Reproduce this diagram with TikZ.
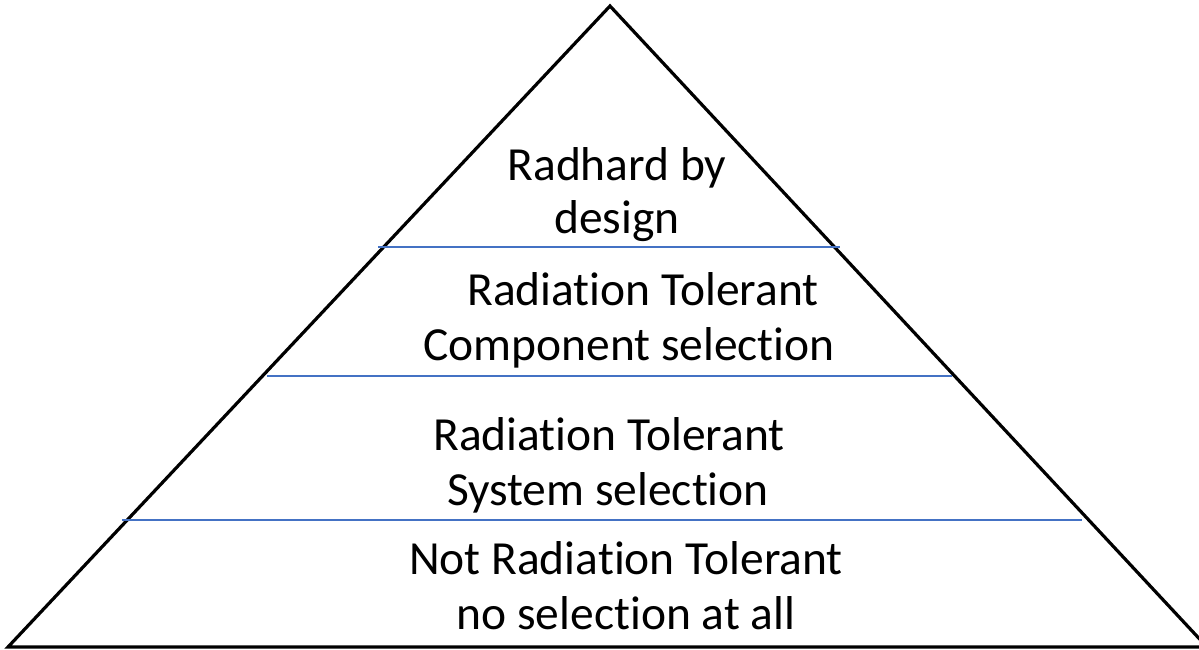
\documentclass[tikz,border=0pt]{standalone}
\usepackage{fontspec}
\setmainfont[Ligatures=CommonOff]{Carlito}
\newcommand\ti{t\kern0pt i}
\definecolor{sepblue}{RGB}{68,114,196}
\begin{document}
\begin{tikzpicture}[x=1pt,y=-1pt,
  lbl/.style={anchor=base,inner sep=0pt,font=\fontsize{47.5}{57}\selectfont},
  sep/.style={draw=sepblue,line width=1.6pt}]
\useasboundingbox (0,0) rectangle (1199,650);
\coordinate (apex) at (610,6);
\coordinate (bl) at (8,647);
\coordinate (br) at (1207,647);
\draw[line width=3.2pt,line join=miter] (bl) -- (apex) -- (br) -- cycle;
\coordinate (s1l) at (378,247); \coordinate (s1r) at (840,247);
\coordinate (s2l) at (267,376); \coordinate (s2r) at (952,376);
\coordinate (s3l) at (122,520); \coordinate (s3r) at (1082,520);
\draw[sep] (s1l) -- (s1r);
\draw[sep] (s2l) -- (s2r);
\draw[sep] (s3l) -- (s3r);
\node[lbl] (a1) at (617,180) {Radhard by};
\node[lbl] (a2) at (617,233) {design};
\node[lbl] (b1) at (643,305) {Radia\ti on Tolerant};
\node[lbl] (b2) at (629,360) {Component selec\ti on};
\node[lbl] (c1) at (609,450) {Radia\ti on Tolerant};
\node[lbl] (c2) at (608,505) {System selec\ti on};
\node[lbl] (d1) at (626,574) {Not Radia\ti on Tolerant};
\node[lbl] (d2) at (626,629) {no selec\ti on at all};
\end{tikzpicture}
\end{document}
